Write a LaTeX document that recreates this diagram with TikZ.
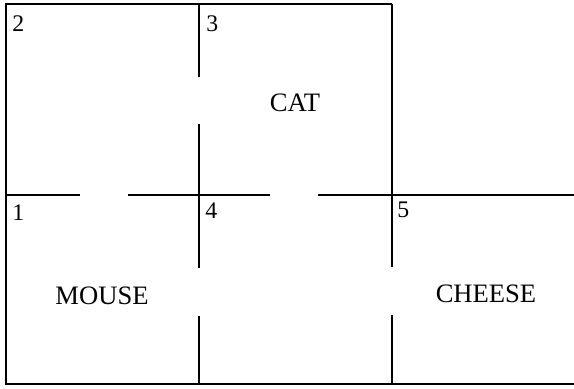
\documentclass[tikz,border=0pt]{standalone}
\usepackage{fontspec}
\setmainfont{Liberation Serif}
\usetikzlibrary{positioning}

\begin{document}
\begin{tikzpicture}[x=0.5pt,y=-0.5pt,
  wall/.style={line width=0.6pt},
  roomno/.style={anchor=north west,inner sep=0pt,font=\fontsize{11.9}{14}\selectfont},
  roomname/.style={inner sep=0pt,font=\fontsize{13.3}{16}\selectfont}]
\useasboundingbox (0,0) rectangle (574,388);
% outer walls
\draw[wall] (392,4) -- (6,4) -- (6,384) -- (574,384);
\draw[wall] (392,4) -- (392,267);
\draw[wall] (392,315) -- (392,384);
% inner walls with doors
\draw[wall] (199,4) -- (199,77) (199,124) -- (199,268) (199,316) -- (199,384);
\draw[wall] (6,195) -- (80,195) (128,195) -- (270,195) (318,195) -- (574,195);
% room numbers
\foreach \n/\x/\y in {1/12/204,2/12/15,3/206/15,4/205/202,5/397/202}
  {\node[roomno] (no\n) at (\x,\y) {\n};}
\node[roomname] (cat) at (295,103) {CAT};
\node[roomname] (mouse) at (102,296) {MOUSE};
\node[roomname] (cheese) at (486,294) {CHEESE};
\end{tikzpicture}
\end{document}
